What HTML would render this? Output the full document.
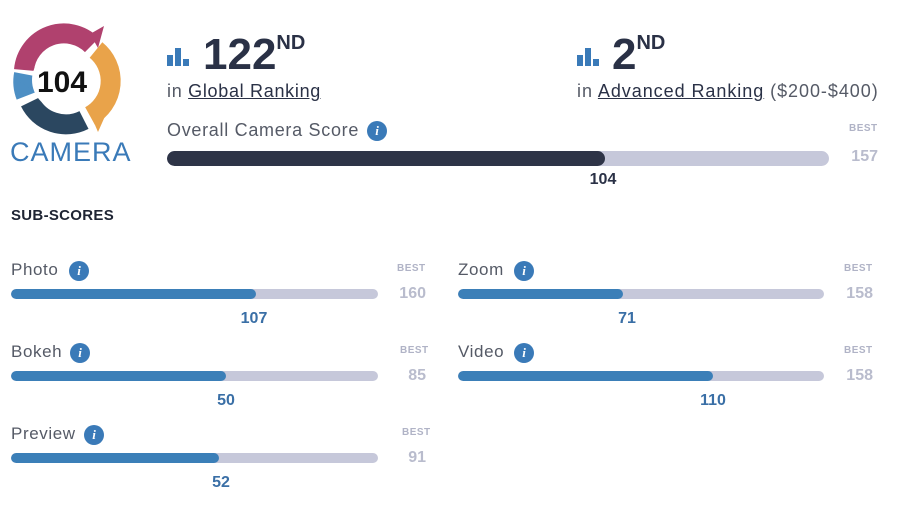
<!DOCTYPE html>
<html><head><meta charset="utf-8"><style>
body{margin:0;width:911px;height:512px;background:#fff;font-family:"Liberation Sans",sans-serif;position:relative;overflow:hidden}
.a{position:absolute;white-space:nowrap}
.info{position:absolute;width:20px;height:20px;border-radius:50%;background:#3a7ab8;color:#fff;font:italic bold 13px "Liberation Serif",serif;text-align:center;line-height:20px}
.best{position:absolute;font-size:10px;font-weight:bold;color:#b0b3c6;letter-spacing:.5px}
.bar{position:absolute;height:10px;border-radius:5px;background:#c6c8da;overflow:hidden}
.bar i{display:block;height:100%;background:#3b7fb8;border-radius:5px}
.lab{position:absolute;font-size:17px;color:#555a66;letter-spacing:.6px}
.max{position:absolute;font-size:16px;font-weight:bold;color:#b9bccd;text-align:right;width:40px}
.val{position:absolute;font-size:16px;font-weight:bold;color:#3a6fa6;width:60px;text-align:center}
</style></head><body>
<svg class="a" style="left:0;top:20px" width="140" height="120" viewBox="0 20 140 120">
<g fill="none" stroke-width="20">
<path d="M24 70 A40 40 0 0 1 92 45" stroke="#b0416e"/>
<path d="M96 50 A40 40 0 0 1 90 116" stroke="#e9a34a"/>
<path d="M84 120 A40 40 0 0 1 30 102" stroke="#2b4760"/>
<path d="M26 96 A40 40 0 0 1 24 74" stroke="#4d8fc4"/>
</g>
<path d="M90 34 L104 26 L98 48Z" fill="#b0416e"/>
<path d="M92 118 L98 132 L106 114Z" fill="#e9a34a"/>
<path d="M14 78 L34 78 L30 88Z" fill="#4d8fc4"/>
<circle cx="62" cy="80" r="30" fill="#fff"/>
<text x="62" y="92" text-anchor="middle" font-family="Liberation Sans" font-weight="bold" font-size="30" fill="#111">104</text>
</svg>
<div class="a" style="left:10px;top:137px;font-size:27px;color:#3a7ab8;letter-spacing:1px">CAMERA</div>

<svg class="a" style="left:167px;top:48px" width="24" height="18"><rect x="0" y="7" width="6" height="11" fill="#3a7ab8"/><rect x="8" y="0" width="6" height="18" fill="#3a7ab8"/><rect x="16" y="11" width="6" height="7" fill="#3a7ab8"/></svg>
<div class="a" style="left:203px;top:30px;font-size:44px;font-weight:bold;color:#2a3146">122<sup style="font-size:20px;vertical-align:20px">ND</sup></div>
<div class="a" style="left:167px;top:81px;font-size:18px;color:#555a66;letter-spacing:.7px">in <span style="color:#2a3146;text-decoration:underline">Global Ranking</span></div>

<svg class="a" style="left:577px;top:48px" width="24" height="18"><rect x="0" y="7" width="6" height="11" fill="#3a7ab8"/><rect x="8" y="0" width="6" height="18" fill="#3a7ab8"/><rect x="16" y="11" width="6" height="7" fill="#3a7ab8"/></svg>
<div class="a" style="left:612px;top:30px;font-size:44px;font-weight:bold;color:#2a3146">2<sup style="font-size:20px;vertical-align:20px">ND</sup></div>
<div class="a" style="left:577px;top:81px;font-size:18px;color:#555a66;letter-spacing:.95px">in <span style="color:#2a3146;text-decoration:underline">Advanced Ranking</span> ($200-$400)</div>

<div class="lab" style="left:167px;top:120px;font-size:18px;letter-spacing:.7px">Overall Camera Score</div>
<div class="info" style="left:367px;top:121px">i</div>
<div class="best" style="left:849px;top:123px">BEST</div>
<div class="bar" style="left:167px;top:151px;width:662px;height:15px;border-radius:8px"><i style="width:438px;background:#2e3447;border-radius:8px"></i></div>
<div class="max" style="left:838px;top:148px">157</div>
<div class="val" style="left:573px;top:171px;color:#2a3146">104</div>

<div class="a" style="left:11px;top:207px;font-size:15px;font-weight:bold;color:#1e2433;letter-spacing:.3px">SUB-SCORES</div>

<div class="lab" style="left:11px;top:260px">Photo</div><div class="info" style="left:69px;top:261px">i</div>
<div class="best" style="left:397px;top:263px">BEST</div>
<div class="bar" style="left:11px;top:289px;width:367px"><i style="width:245px"></i></div>
<div class="max" style="left:386px;top:285px">160</div><div class="val" style="left:224px;top:310px">107</div>

<div class="lab" style="left:11px;top:342px">Bokeh</div><div class="info" style="left:70px;top:343px">i</div>
<div class="best" style="left:400px;top:345px">BEST</div>
<div class="bar" style="left:11px;top:371px;width:367px"><i style="width:215px"></i></div>
<div class="max" style="left:386px;top:367px">85</div><div class="val" style="left:196px;top:392px">50</div>

<div class="lab" style="left:11px;top:424px">Preview</div><div class="info" style="left:84px;top:425px">i</div>
<div class="best" style="left:402px;top:427px">BEST</div>
<div class="bar" style="left:11px;top:453px;width:367px"><i style="width:208px"></i></div>
<div class="max" style="left:386px;top:449px">91</div><div class="val" style="left:191px;top:474px">52</div>

<div class="lab" style="left:458px;top:260px">Zoom</div><div class="info" style="left:514px;top:261px">i</div>
<div class="best" style="left:844px;top:263px">BEST</div>
<div class="bar" style="left:458px;top:289px;width:366px"><i style="width:165px"></i></div>
<div class="max" style="left:833px;top:285px">158</div><div class="val" style="left:597px;top:310px">71</div>

<div class="lab" style="left:458px;top:342px">Video</div><div class="info" style="left:514px;top:343px">i</div>
<div class="best" style="left:844px;top:345px">BEST</div>
<div class="bar" style="left:458px;top:371px;width:366px"><i style="width:255px"></i></div>
<div class="max" style="left:833px;top:367px">158</div><div class="val" style="left:683px;top:392px">110</div>
</body></html>
